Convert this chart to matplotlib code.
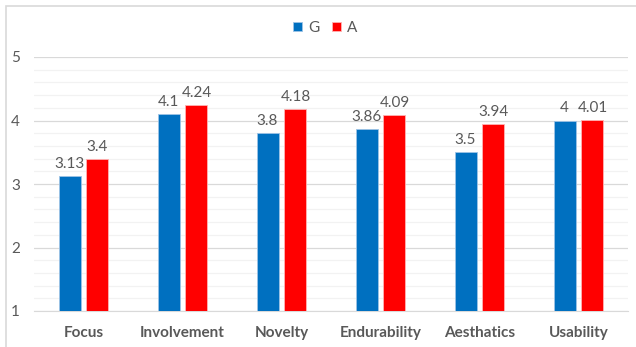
import matplotlib.pyplot as plt
import numpy as np
from matplotlib.patches import Rectangle

categories = ["Focus", "Involvement", "Novelty", "Endurability", "Aesthatics", "Usability"]
g_vals = [3.13, 4.1, 3.8, 3.86, 3.5, 4]
a_vals = [3.4, 4.24, 4.18, 4.09, 3.94, 4.01]
g_labels = ["3.13", "4.1", "3.8", "3.86", "3.5", "4"]
a_labels = ["3.4", "4.24", "4.18", "4.09", "3.94", "4.01"]

plt.rcParams['font.family'] = ['Lato', 'DejaVu Sans']
txt = '#595959'

fig = plt.figure(figsize=(6.36, 3.47), dpi=100)
W, H = 636, 347
ax = fig.add_axes([34 / W, 1 - 311 / H, (628 - 34) / W, (311 - 57) / H])

# outer chart border
fig.patches.append(Rectangle((6 / W, -0.1), 1.1, 1 - 6 / H + 0.1, transform=fig.transFigure,
                             fill=False, edgecolor='#d9d9d9', linewidth=1.2))

x = np.arange(len(categories))
w = 0.222
off = 0.141
b1 = ax.bar(x - off, [v - 1 for v in g_vals], w, bottom=1, color='#0070C0',
            edgecolor='#9dc3e6', linewidth=0.6, label='G', zorder=3)
b2 = ax.bar(x + off, [v - 1 for v in a_vals], w, bottom=1, color='#FF0000',
            edgecolor='#ffb3b3', linewidth=0.6, label='A', zorder=3)

for i in range(len(categories)):
    ax.text(x[i] - off, g_vals[i] + 0.08, g_labels[i], ha='center', va='bottom',
            fontsize=11, color=txt)
    ax.text(x[i] + off, a_vals[i] + 0.08, a_labels[i], ha='center', va='bottom',
            fontsize=11, color=txt)

ax.set_xlim(-0.5, len(categories) - 0.5)
ax.set_ylim(1, 5)
ax.set_yticks([1, 2, 3, 4, 5])
ax.set_yticks(np.arange(1, 5.01, 0.2), minor=True)
ax.grid(axis='y', which='major', color='#d9d9d9', linewidth=0.9, zorder=0)
ax.grid(axis='y', which='minor', color='#f2f2f2', linewidth=0.9, zorder=0)
ax.set_xticks(x)
ax.set_xticklabels(categories, fontsize=11, fontweight='bold', color=txt)
ax.tick_params(axis='y', which='both', length=0, labelsize=11, labelcolor=txt, pad=10)
ax.tick_params(axis='x', length=0, pad=11)
for s in ['top', 'right', 'left']:
    ax.spines[s].set_visible(False)
ax.spines['bottom'].set_color('#d9d9d9')
ax.set_axisbelow(True)

fig.legend(handles=[b1, b2], labels=['G', 'A'], loc='center', bbox_to_anchor=(325 / W, 1 - 28 / H),
           ncol=2, frameon=False, fontsize=11, labelcolor=txt, handlelength=0.6,
           handleheight=0.6, handletextpad=0.4, columnspacing=0.8)

fig.savefig('out.png', dpi=100)
